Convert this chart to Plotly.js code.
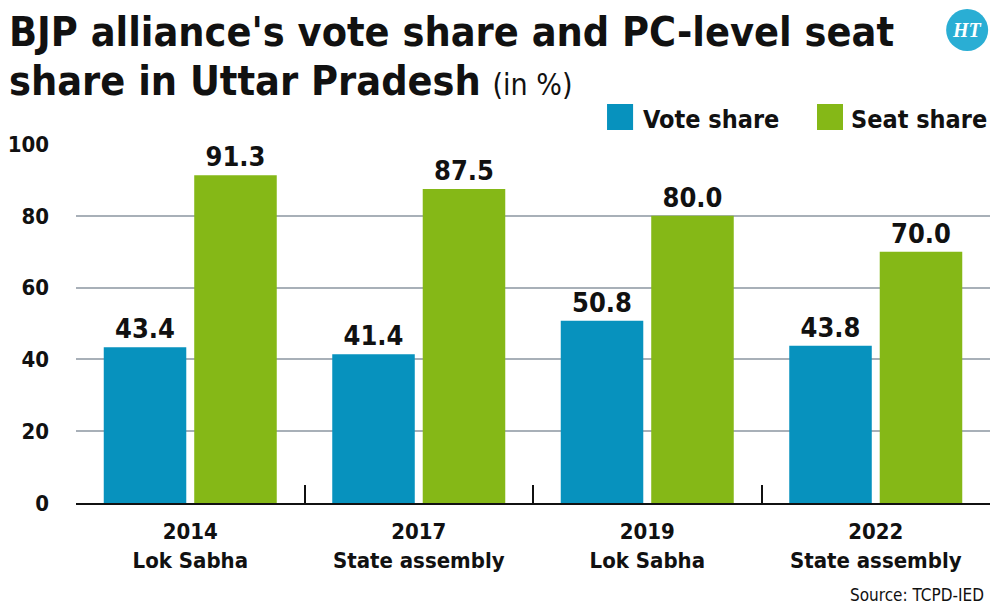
<!DOCTYPE html>
<html>
<head>
<meta charset="utf-8">
<script src="https://cdn.plot.ly/plotly-3.0.1.min.js"></script>
<style>html,body{margin:0;padding:0;background:#fff;}#chart{width:1000px;height:609px;}</style>
</head>
<body>
<div id="chart"></div>
<script>
const years = ["2014", "2017", "2019", "2022"];
const elections = ["Lok Sabha", "State assembly", "Lok Sabha", "State assembly"];
const voteShare = [43.4, 41.4, 50.8, 43.8];
const seatShare = [91.3, 87.5, 80.0, 70.0];
const yTicks = [0, 20, 40, 60, 80, 100];
const seriesNames = ["Vote share", "Seat share"];
const blue = "#0792be";
const green = "#85b817";

const COND = "'DejaVu Sans Condensed', 'DejaVu Sans', sans-serif";
const ST = "condensed";
const categories = years.map((y, i) => y + "<br>" + elections[i]);

const labelFont = {family: COND, stretch: ST, size: 27, color: "#111", weight: "bold"};
const traces = [
  {type: "bar", name: seriesNames[0], x: categories, y: voteShare, marker: {color: blue},
   texttemplate: "%{y:.1f}", textposition: "outside", cliponaxis: false,
   textfont: labelFont, hoverinfo: "skip"},
  {type: "bar", name: seriesNames[1], x: categories, y: seatShare, marker: {color: green},
   texttemplate: "%{y:.1f}", textposition: "outside", cliponaxis: false,
   textfont: labelFont, hoverinfo: "skip"}
];

const layout = {
  width: 1000, height: 609,
  margin: {l: 76, r: 10, t: 144, b: 106},
  paper_bgcolor: "#fff", plot_bgcolor: "#fff",
  showlegend: false,
  barmode: "group", bargap: 0.208, bargroupgap: 0.088,
  font: {family: COND, stretch: ST, color: "#111"},
  xaxis: {
    type: "category", showgrid: false, zeroline: false,
    showline: true, linecolor: "#111", linewidth: 2,
    ticks: "inside", tickson: "boundaries", ticklen: 18, tickwidth: 2, tickcolor: "#111",
    tickfont: {family: COND, stretch: ST, size: 22, color: "#111", weight: "bold"},
    ticklabelstandoff: 8,
    fixedrange: true
  },
  yaxis: {
    range: [0, 100], tickvals: yTicks, showgrid: true, gridcolor: "#a8b0b8", gridwidth: 2,
    zeroline: false, showline: false, ticks: "", ticklabelstandoff: 26,
    tickfont: {family: COND, stretch: ST, size: 22, color: "#111", weight: "bold"},
    fixedrange: true
  },
  annotations: [
    {xref: "paper", yref: "paper", x: -0.0755, y: 1.0, xanchor: "left", yanchor: "bottom",
     yshift: 86, showarrow: false, align: "left",
     text: "<b>BJP alliance's vote share and PC-level seat</b>",
     font: {family: COND, stretch: ST, size: 41, color: "#111"}},
    {xref: "paper", yref: "paper", x: -0.0755, y: 1.0, xanchor: "left", yanchor: "bottom",
     yshift: 37, showarrow: false, align: "left",
     text: "<b>share in Uttar Pradesh</b> <span style='font-size:30px'>(in %)</span>",
     font: {family: COND, stretch: ST, size: 41, color: "#111"}},
    {xref: "paper", yref: "paper", x: 1.0, y: 0, xanchor: "right", yanchor: "top",
     yshift: -80, xshift: -4, showarrow: false,
     text: "Source: TCPD-IED", font: {family: COND, stretch: ST, size: 17, color: "#111"}},
    {xref: "paper", yref: "paper", x: 0.6095, y: 1.0, xanchor: "left", yanchor: "bottom",
     yshift: 8, xshift: 8, showarrow: false, text: "<b>" + seriesNames[0] + "</b>",
     font: {family: COND, stretch: ST, size: 25, color: "#111"}},
    {xref: "paper", yref: "paper", x: 0.8392, y: 1.0, xanchor: "left", yanchor: "bottom",
     yshift: 8, xshift: 6, showarrow: false, text: "<b>" + seriesNames[1] + "</b>",
     font: {family: COND, stretch: ST, size: 25, color: "#111"}},
    {xref: "paper", yref: "paper", x: 0.975, y: 1.0, xanchor: "center", yanchor: "middle",
     yshift: 114, showarrow: false, text: "<b><i>HT</i></b>",
     font: {family: "'Liberation Serif', 'DejaVu Serif', serif", size: 20, color: "#fff"}}
  ],
  shapes: [
    {type: "rect", xref: "paper", yref: "paper", x0: 0.581, x1: 0.6095,
     ysizemode: "pixel", yanchor: 1.0, y0: 14, y1: 40, fillcolor: blue, line: {width: 0}},
    {type: "rect", xref: "paper", yref: "paper", x0: 0.8107, x1: 0.8392,
     ysizemode: "pixel", yanchor: 1.0, y0: 14, y1: 40, fillcolor: green, line: {width: 0}},
    {type: "circle", xref: "paper", yref: "paper", xsizemode: "pixel", ysizemode: "pixel",
     xanchor: 0.975, yanchor: 1.0, x0: -21, x1: 21, y0: 93, y1: 135,
     fillcolor: "#2aaed4", line: {width: 0}}
  ]
};

Plotly.newPlot("chart", traces, layout, {displayModeBar: false, staticPlot: true});
</script>
</body>
</html>
